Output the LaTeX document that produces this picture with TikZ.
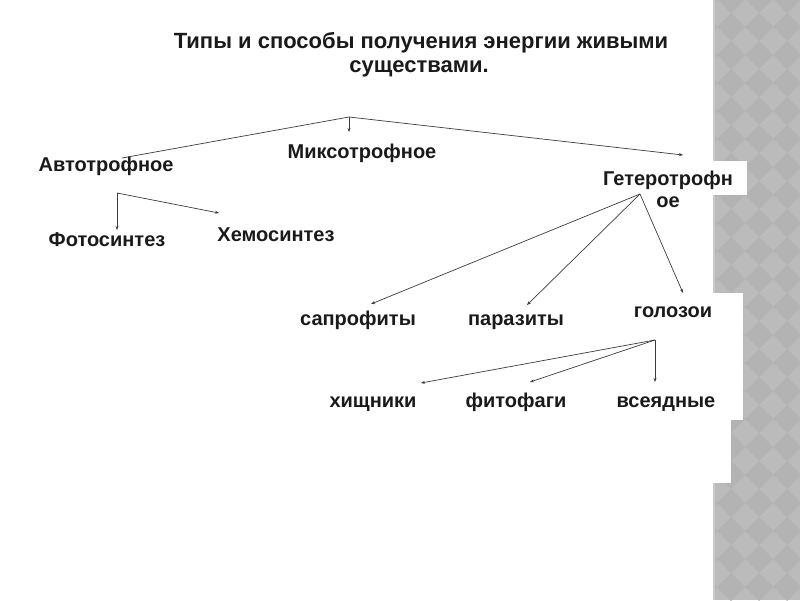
\documentclass[tikz,border=0pt]{standalone}
\usepackage{fontspec}
\setmainfont{Liberation Sans}
\usetikzlibrary{arrows.meta}
\definecolor{stripbase}{HTML}{BBBBBB}
\definecolor{diagray}{HTML}{B3B3B3}
\definecolor{ink}{HTML}{1A1A1A}
\definecolor{linegray}{HTML}{3C3C3C}
\tikzset{
  lbl/.style={inner sep=0pt, anchor=base, text=ink, font=\fontsize{20}{24}\selectfont\bfseries},
  ttl/.style={inner sep=0pt, anchor=base, text=ink, font=\fontsize{22}{26}\selectfont\bfseries},
  conn/.style={draw=linegray, line width=0.7pt, -{Stealth[length=4pt,width=3pt]}},
  plain/.style={draw=linegray, line width=0.7pt}
}
\begin{document}
\begin{tikzpicture}[x=1pt,y=-1pt]
\useasboundingbox (0,0) rectangle (800,600);
\fill[white] (0,0) rectangle (800,600);
% right patterned strip
\fill[stripbase] (713,0) rectangle (800,600);
\begin{scope}
\clip (713,0) rectangle (800,600);
\foreach \i in {-1,...,3}{
  \foreach \j in {-1,...,22}{
    \fill[diagray] ({731+\i*28},{13+\j*28}) -- ++(14,14) -- ++(-14,14) -- ++(-14,-14) -- cycle;
  }
}
\end{scope}
\fill[stripbase!80!white] (713,0) rectangle (715,600);
% white patches over strip
\fill[white] (600,161) rectangle (747,195);
\fill[white] (600,293) rectangle (743,420);
\fill[white] (600,420) rectangle (731,483);

% title
\node[ttl] (title1) at (421,48) {Типы и способы получения энергии живыми};
\node[ttl] (title2) at (419,72) {существами.};

% nodes
\node[lbl] (auto) at (106,171) {Автотрофное};
\node[lbl] (mixo) at (362,158) {Миксотрофное};
\node[lbl] (hetero) at (668,185) {Гетеротрофн};
\node[lbl] (hetero2) at (668,207) {ое};
\node[lbl] (photo) at (107,246) {Фотосинтез};
\node[lbl] (chemo) at (276,241) {Хемосинтез};
\node[lbl] (sapro) at (358,325) {сапрофиты};
\node[lbl] (para) at (516,325) {паразиты};
\node[lbl] (golo) at (673,317) {голозои};
\node[lbl] (hish) at (373,407) {хищники};
\node[lbl] (phyto) at (516,407) {фитофаги};
\node[lbl] (vse) at (666,407) {всеядные};

% branching points
\coordinate (top) at (349,117);
\coordinate (autoB) at (117,193);
\coordinate (hetB) at (640,194);
\coordinate (goloB) at (655,340);

\coordinate (autoIn) at (122,158);
\coordinate (mixoIn) at (349,132);
\coordinate (hetIn) at (683,155);
\coordinate (photoIn) at (117,230);
\coordinate (chemoIn) at (219,213);
\coordinate (saproIn) at (371,304);
\coordinate (paraIn) at (527,305);
\coordinate (goloIn) at (683,293);
\coordinate (hishIn) at (421,383);
\coordinate (phytoIn) at (530,382);
\coordinate (vseIn) at (655,382);

\draw[plain] (top) -- (autoIn);
\draw[conn] (top) -- (mixoIn);
\draw[conn] (top) -- (hetIn);
\draw[conn] (autoB) -- (photoIn);
\draw[conn] (autoB) -- (chemoIn);
\draw[conn] (hetB) -- (saproIn);
\draw[conn] (hetB) -- (paraIn);
\draw[conn] (hetB) -- (goloIn);
\draw[conn] (goloB) -- (hishIn);
\draw[conn] (goloB) -- (phytoIn);
\draw[conn] (goloB) -- (vseIn);
\end{tikzpicture}
\end{document}
